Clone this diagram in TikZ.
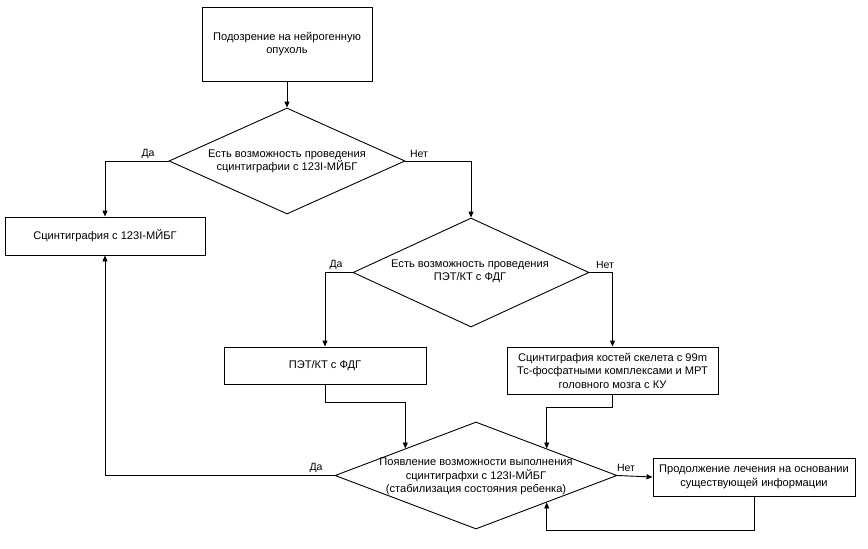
\documentclass[tikz,border=0pt]{standalone}
\usepackage{fontspec}
\setmainfont{Liberation Sans}
\usetikzlibrary{shapes.geometric,arrows.meta,calc}
\begin{document}
\begin{tikzpicture}[x=1pt,y=-1pt,
  font=\fontsize{11.1}{13.5}\selectfont,
  line width=0.9pt,
  box/.style={draw, rectangle, inner sep=0pt, align=center},
  dia/.style={draw, diamond, inner sep=0pt},
  txt/.style={align=center, inner sep=0pt},
  lbl/.style={inner sep=0pt, font=\fontsize{10.5}{12}\selectfont},
  arr/.style={-{Triangle[length=6pt,width=5pt]}}]
\useasboundingbox (0,0) rectangle (868,549);

\node[box, minimum width=170pt, minimum height=74pt] (b1) at (287,44) {Подозрение на нейрогенную\\опухоль};

\node[dia, minimum width=236pt, minimum height=106pt] (d1) at (287,161) {};
\node[txt] (t1) at (287,161.5) {Есть возможность проведения\\сцинтиграфии с 123I-МЙБГ};

\node[box, minimum width=200pt, minimum height=38pt] (b2) at (105,236) {Сцинтиграфия с 123I-МЙБГ};

\node[dia, minimum width=236pt, minimum height=109pt] (d2) at (471,272.5) {};
\node[txt] (t2) at (470,271.5) {Есть возможность проведения\\ПЭТ/КТ с ФДГ};

\node[box, minimum width=202pt, minimum height=37pt] (b3) at (325,365.5) {ПЭТ/КТ с ФДГ};
\node[box, minimum width=211pt, minimum height=47pt] (b4) at (612.5,370.5) {Сцинтиграфия костей скелета с 99m\\Тс-фосфатными комплексами и МРТ\\головного мозга с КУ};

\node[dia, minimum width=282pt, minimum height=107pt] (d3) at (476,475.5) {};
\node[txt] (t3) at (476,476.5) {Появление возможности выполнения\\сцинтиграфхи с 123I-МЙБГ\\(стабилизация состояния ребенка)};

\node[box, minimum width=202pt, minimum height=38pt] (b5) at (754,477) {Продолжение лечения на основании\\существующей информации};

\coordinate (c3) at ($(d3.west)!0.5!(d3.north)$);
\coordinate (c4) at ($(d3.east)!0.5!(d3.north)$);
\coordinate (c5) at ($(d3.east)!0.5!(d3.south)$);

\draw[arr] (b1.south) -- (d1.north);
\draw[arr] (d1.west) -| (b2.north);
\draw[arr] (d1.east) -| (d2.north);
\draw[arr] (d2.west) -| (b3.north);
\draw[arr] (d2.east) -| (b4.north);
\draw[arr] (b3.south) -- ++(0,18) -| (c3);
\draw[arr] (b4.south) -- ++(0,13) -| (c4);
\draw[arr] (d3.west) -| (b2.south);
\draw[arr] (d3.east) -- (b5.west);
\draw[arr] (b5.south) -- ++(0,34) -| (c5);

\node[lbl] (l1) at (148,154) {Да};
\node[lbl] (l2) at (419,154) {Нет};
\node[lbl] (l3) at (336,265) {Да};
\node[lbl] (l4) at (605,265) {Нет};
\node[lbl] (l5) at (316,468) {Да};
\node[lbl] (l6) at (626,468) {Нет};
\end{tikzpicture}
\end{document}
